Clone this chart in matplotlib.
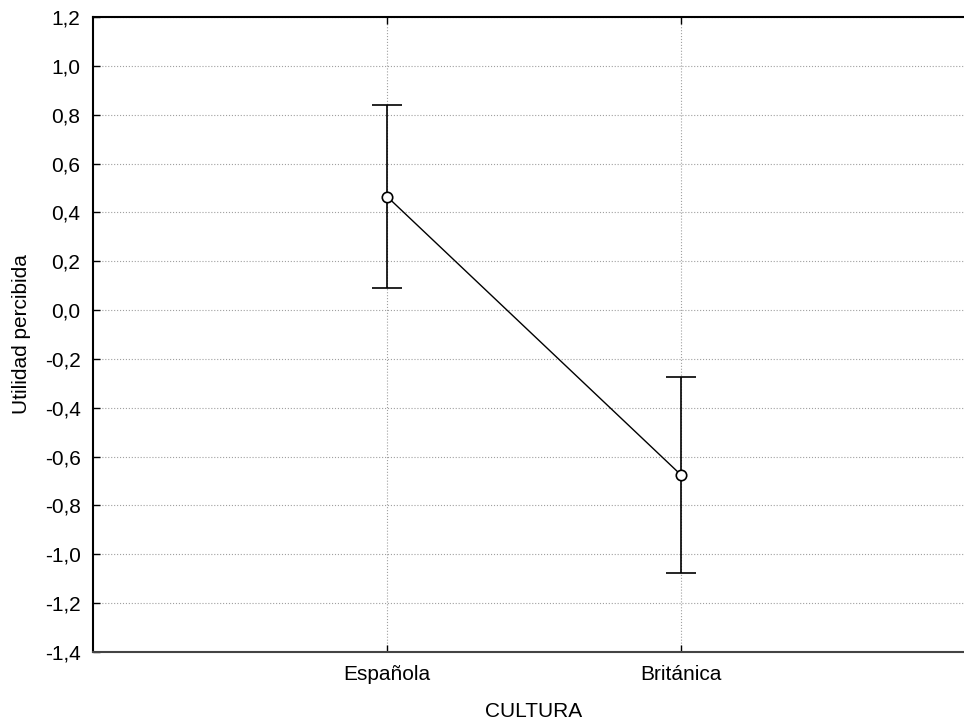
import matplotlib.pyplot as plt
from matplotlib.ticker import FuncFormatter

plt.rcParams['font.family'] = ['Liberation Sans', 'DejaVu Sans']

cultures = ['Española', 'Británica']
means = [0.465, -0.675]
err_low = [0.375, 0.40]
err_high = [0.375, 0.40]

x = [1, 2]

fig = plt.figure(figsize=(9.64, 7.22), dpi=100)
ax = fig.add_axes([93/964, 70/722, (975-93)/964, (652-17)/722])

ax.errorbar(x, means, yerr=[err_low, err_high], fmt='-o', color='black',
            linewidth=1, elinewidth=1.2, capsize=11, capthick=1.2,
            markersize=7.5, markerfacecolor='white', markeredgecolor='black',
            markeredgewidth=1.2, zorder=3)

ax.set_xlim(0, 3)
ax.set_ylim(-1.4, 1.2)
ax.set_xticks(x)
ax.set_xticklabels(cultures)
ax.set_yticks([-1.4 + 0.2*i for i in range(14)])
ax.yaxis.set_major_formatter(FuncFormatter(lambda v, p: ('%.1f' % v).replace('.', ',').replace('−', '-')))

ax.grid(True, linestyle=':', color='#a0a0a0', linewidth=0.8)
ax.tick_params(direction='in', labelsize=15, length=5, top=True, width=1)
ax.tick_params(axis='x', pad=9)
ax.tick_params(axis='y', pad=9)
for s in ['top', 'bottom', 'left']:
    ax.spines[s].set_linewidth(1.5)
ax.spines['bottom'].set_color('#444444')
ax.spines['right'].set_visible(False)

ax.set_ylabel('Utilidad percibida', fontsize=15, labelpad=10)
ax.set_xlabel('CULTURA', fontsize=15, labelpad=13)

fig.savefig('out.png', dpi=100)
